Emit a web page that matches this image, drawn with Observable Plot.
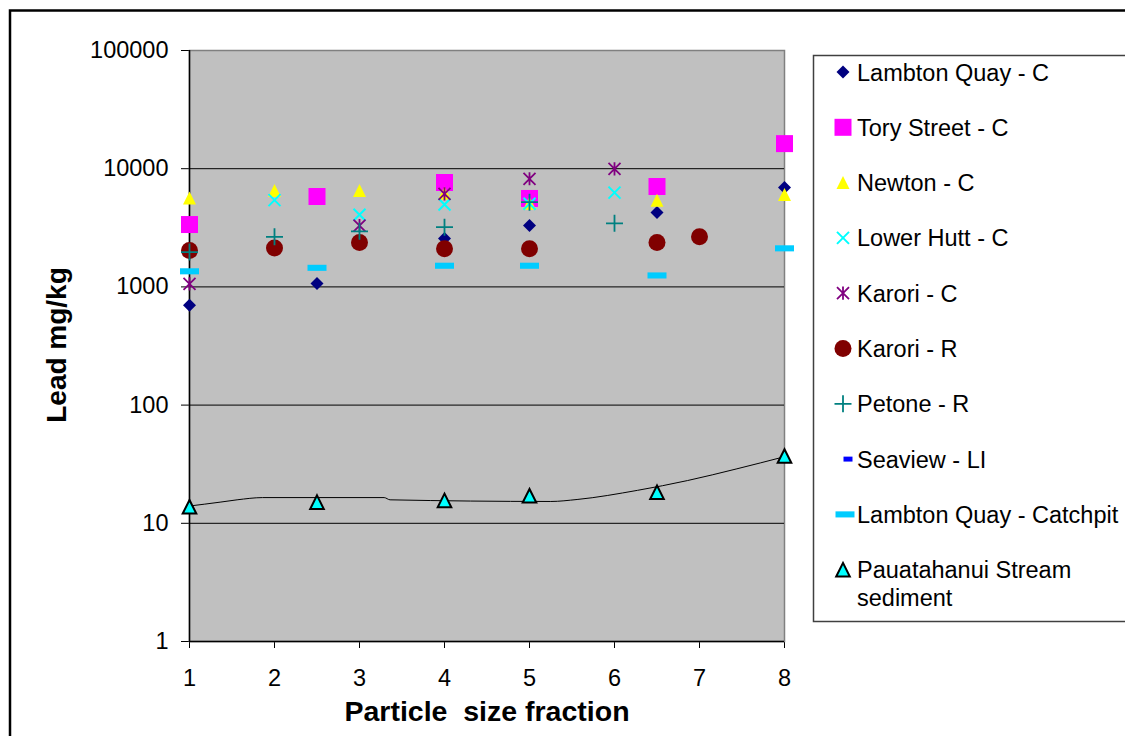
<!DOCTYPE html>
<html><head><meta charset="utf-8">
<script src="https://cdn.jsdelivr.net/npm/d3@7"></script>
<script src="https://cdn.jsdelivr.net/npm/@observablehq/plot@0.6"></script>
<style>
body{margin:0;background:#fff;}
#wrap{position:relative;width:1125px;height:736px;overflow:hidden;font-family:"Liberation Sans",Arial,sans-serif;}
#chart{position:absolute;left:0;top:0;}
#overlay{position:absolute;left:0;top:0;pointer-events:none;}
</style></head><body>
<div id="wrap"><div id="chart"></div><svg id="overlay" width="1125" height="736"></svg></div>
<script>
// ---- data (Lead mg/kg by particle size fraction) ----
const xTicks = [1, 2, 3, 4, 5, 6, 7, 8];
const yTicks = [1, 10, 100, 1000, 10000, 100000];
const gridValues = [10, 100, 1000, 10000];

const lambtonQuayX = [1, 2.5, 4, 5, 6.5, 8];
const lambtonQuayPb = [700, 1070, 2570, 3300, 4260, 6930];

const toryStreetX = [1, 2.5, 4, 5, 6.5, 8];
const toryStreetPb = [3370, 5820, 7640, 5600, 7070, 16300];

const newtonX = [1, 2, 3, 4, 5, 6.5, 8];
const newtonPb = [5650, 6540, 6550, 6210, 5110, 5420, 6050];

const lowerHuttX = [2, 3, 4, 5, 6];
const lowerHuttPb = [5420, 4080, 4980, 5050, 6270];

const karoriCX = [1, 3, 4, 5, 6];
const karoriCPb = [1060, 3300, 6130, 8220, 9950];

const karoriRX = [1, 2, 3, 4, 5, 6.5, 7];
const karoriRPb = [2030, 2130, 2380, 2100, 2100, 2380, 2660];

const petoneX = [1, 2, 3, 4, 5, 6];
const petonePb = [1970, 2650, 2950, 3200, 5210, 3450];

const seaviewX = [];
const seaviewPb = [];

const catchpitX = [1, 2.5, 4, 5, 6.5, 8];
const catchpitPb = [1355, 1450, 1510, 1510, 1250, 2120];

const streamX = [1, 2.5, 4, 5, 6.5, 8];
const streamPb = [13.8, 15.1, 15.6, 17.1, 18.3, 37.1];

const trendX = [1, 1.36, 1.56, 1.86, 3.29, 3.36, 5.25, 5.56, 6.27, 6.86, 7.44, 8];
const trendPb = [14.0, 15.1, 15.8, 16.5, 16.5, 15.8, 15.3, 15.9, 19.0, 23.0, 28.9, 36.6];

const seriesNames = ["Lambton Quay - C", "Tory Street - C", "Newton - C", "Lower Hutt - C", "Karori - C",
  "Karori - R", "Petone - R", "Seaview - LI", "Lambton Quay - Catchpit", "Pauatahanui Stream sediment"];

// ---- custom marker shapes (size = r*r*PI) ----
const rad = s => Math.sqrt(s / Math.PI);
const sym = {
  diamond: {draw(c, s){const r = rad(s); c.moveTo(0,-r); c.lineTo(r,0); c.lineTo(0,r); c.lineTo(-r,0); c.closePath();}},
  square: {draw(c, s){const r = rad(s); c.rect(-r,-r,2*r,2*r);}},
  triangle: {draw(c, s){const r = rad(s); c.moveTo(0,-r); c.lineTo(r,r); c.lineTo(-r,r); c.closePath();}},
  times: {draw(c, s){const r = rad(s); c.moveTo(-r,-r); c.lineTo(r,r); c.moveTo(-r,r); c.lineTo(r,-r);}},
  asterisk: {draw(c, s){const r = rad(s); c.moveTo(-r,-r); c.lineTo(r,r); c.moveTo(-r,r); c.lineTo(r,-r); c.moveTo(0,-r*1.1); c.lineTo(0,r*1.1);}},
  circle: {draw(c, s){const r = rad(s); c.moveTo(r,0); c.arc(0,0,r,0,2*Math.PI); c.closePath();}},
  plus: {draw(c, s){const r = rad(s); c.moveTo(-r,0); c.lineTo(r,0); c.moveTo(0,-r); c.lineTo(0,r);}},
  dash: {draw(c, s){const r = rad(s); const h = r*0.32; c.rect(-r,-h,2*r,2*h);}},
  smallDash: {draw(c, s){const r = rad(s); const h = r*0.55; c.rect(-r,-h,2*r,2*h);}}
};

const series = [
  {name: seriesNames[0], x: lambtonQuayX, y: lambtonQuayPb, symbol: sym.diamond, r: 6.5, fill: "#000080", stroke: "none", sw: 0},
  {name: seriesNames[1], x: toryStreetX, y: toryStreetPb, symbol: sym.square, r: 8.5, fill: "#FF00FF", stroke: "none", sw: 0},
  {name: seriesNames[2], x: newtonX, y: newtonPb, symbol: sym.triangle, r: 6.5, fill: "#FFFF00", stroke: "none", sw: 0},
  {name: seriesNames[3], x: lowerHuttX, y: lowerHuttPb, symbol: sym.times, r: 6, fill: "none", stroke: "#00FFFF", sw: 2},
  {name: seriesNames[4], x: karoriCX, y: karoriCPb, symbol: sym.asterisk, r: 6, fill: "none", stroke: "#800080", sw: 1.8},
  {name: seriesNames[5], x: karoriRX, y: karoriRPb, symbol: sym.circle, r: 8.5, fill: "#800000", stroke: "none", sw: 0},
  {name: seriesNames[6], x: petoneX, y: petonePb, symbol: sym.plus, r: 8.5, fill: "none", stroke: "#008080", sw: 1.8},
  {name: seriesNames[7], x: seaviewX, y: seaviewPb, symbol: sym.smallDash, r: 4.5, fill: "#0000FF", stroke: "none", sw: 0},
  {name: seriesNames[8], x: catchpitX, y: catchpitPb, symbol: sym.dash, r: 9.5, fill: "#00CCFF", stroke: "none", sw: 0},
  {name: seriesNames[9], x: streamX, y: streamPb, symbol: sym.triangle, r: 6.8, fill: "#00FFFF", stroke: "#000000", sw: 2}
];

const dotMarks = series.map(s => Plot.dot(s.x.map((x, i) => ({x, y: s.y[i]})), {
  x: "x", y: "y", symbol: s.symbol, r: s.r, fill: s.fill, stroke: s.stroke, strokeWidth: s.sw
}));

const chart = Plot.plot({
  width: 800, height: 736,
  marginLeft: 189, marginRight: 16, marginTop: 50, marginBottom: 95,
  style: {fontFamily: "'Liberation Sans', Arial, sans-serif", fontSize: "23.5px", background: "transparent", overflow: "visible", color: "#000"},
  x: {domain: [1, 8], ticks: xTicks, tickSize: 7, tickPadding: 21, label: null, tickFormat: d => String(d)},
  y: {type: "log", domain: [1, 100000], ticks: yTicks, tickSize: 8, tickPadding: 13, label: null, tickFormat: d => String(d)},
  marks: [
    Plot.frame({fill: "#C0C0C0", stroke: "#808080", strokeWidth: 1.5}),
    Plot.ruleY(gridValues, {stroke: "#000", strokeWidth: 1}),
    Plot.ruleX([1], {stroke: "#000", strokeWidth: 1.5}),
    Plot.ruleY([1], {stroke: "#000", strokeWidth: 1.5}),
    Plot.line(trendX.map((x, i) => ({x, y: trendPb[i]})), {x: "x", y: "y", stroke: "#000", strokeWidth: 1, curve: "monotone-x"}),
    ...dotMarks
  ]
});
document.getElementById("chart").appendChild(chart);

// ---- overlay: outer border, axis titles, legend ----
const ov = d3.select("#overlay");
const FONT = "'Liberation Sans', Arial, sans-serif";
ov.append("rect").attr("x", 10).attr("y", 10.5).attr("width", 1300).attr("height", 900)
  .attr("fill", "none").attr("stroke", "#000").attr("stroke-width", 2.5);

ov.append("text").text("Lead mg/kg")
  .attr("transform", "translate(66,345) rotate(-90)")
  .attr("text-anchor", "middle").attr("font-family", FONT).attr("font-weight", "bold").attr("font-size", 28);

ov.append("text").text("Particle  size fraction").style("white-space", "pre")
  .attr("x", 487).attr("y", 721)
  .attr("text-anchor", "middle").attr("font-family", FONT).attr("font-weight", "bold").attr("font-size", 28.5);

ov.append("rect").attr("x", 813.5).attr("y", 55.5).attr("width", 400).attr("height", 566)
  .attr("fill", "#fff").attr("stroke", "#404040").attr("stroke-width", 1.5);

series.forEach((s, i) => {
  const yc = 72 + i * 55.3;
  const p = d3.path();
  s.symbol.draw(p, s.r * s.r * Math.PI);
  ov.append("path").attr("d", p.toString())
    .attr("transform", `translate(${s.symbol === sym.smallDash ? 848 : (s.symbol === sym.dash ? 845 : 843)},${yc})`)
    .attr("fill", s.fill).attr("stroke", s.stroke).attr("stroke-width", s.sw);
  const words = i === 9 ? ["Pauatahanui Stream", "sediment"] : [s.name];
  words.forEach((w, j) => {
    ov.append("text").text(w).attr("x", 857).attr("y", yc + 8.5 + j * 28)
      .attr("font-family", FONT).attr("font-size", 23.5).attr("fill", "#000");
  });
});
</script>
</body></html>
